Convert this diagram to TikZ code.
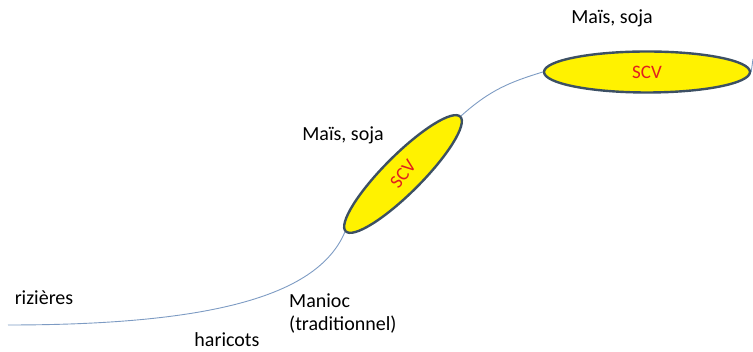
\documentclass[tikz,border=0pt]{standalone}
\usepackage{fontspec}
\setmainfont{Carlito}
\usetikzlibrary{shapes.geometric,backgrounds}
\definecolor{linec}{RGB}{125,155,195}
\definecolor{edgec}{RGB}{60,80,100}
\definecolor{scvred}{RGB}{225,30,30}
\begin{document}
\begin{tikzpicture}[x=1pt,y=1pt,
  lbl/.style={font=\fontsize{20}{23}\selectfont, text=black, inner sep=0pt},
  scvnode/.style={ellipse, draw=edgec, line width=2.4pt, fill=yellow, inner sep=0pt},
  scvtxt/.style={font=\fontsize{19}{22}\selectfont, text=scvred, inner sep=0pt},
  curve/.style={draw=linec, line width=0.9pt}]
\useasboundingbox (0,0) rectangle (753,352);
\coordinate (start) at (8,27);
\coordinate (endp) at (753,293);
\node[scvnode, minimum width=162pt, minimum height=38pt, rotate=45] (e1) at (403,178) {};
\node[scvnode, minimum width=206pt, minimum height=41pt] (e2) at (647,280) {};
\node[scvtxt, rotate=52] (t1) at (e1.center) {SCV};
\node[scvtxt] (t2) at (e2.center) {SCV};
\begin{scope}[on background layer]
\draw[curve] (start) .. controls (230,27) and (320,62) .. (e1.west);
\draw[curve] (e1.east) .. controls (490,262) and (510,270) .. (e2.west);
\draw[curve] (e2.east) -- (endp);
\end{scope}
\node[lbl] (m2) at (612,334) {Maïs, soja};
\node[lbl] (m1) at (343,217) {Maïs, soja};
\node[lbl] (riz) at (44,54) {rizières};
\node[lbl] (har) at (227,12) {haricots};
\node[lbl, anchor=west, align=left] (man) at (289,38) {Manioc\\(traditionnel)};
\end{tikzpicture}
\end{document}
